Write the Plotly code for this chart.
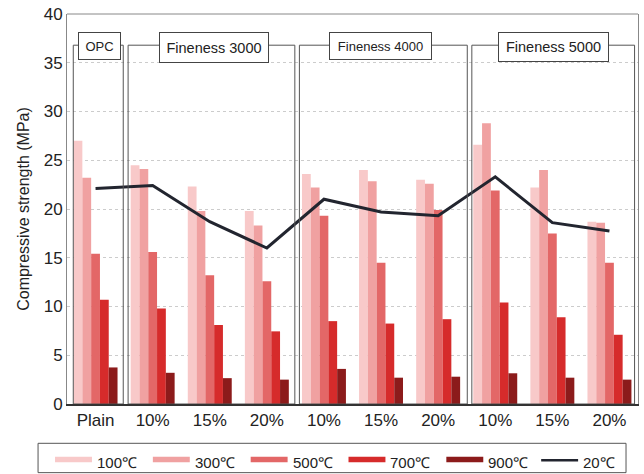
import plotly.graph_objects as go

# Mixes along the x axis (OPC plain, then three slag fineness groups)
categories = ["Plain", "10%", "15%", "20%", "10%", "15%", "20%", "10%", "15%", "20%"]

# Residual compressive strength (MPa) after exposure temperature
s100 = [27.0, 24.5, 22.3, 19.8, 23.6, 24.0, 23.0, 26.6, 22.2, 18.7]
s300 = [23.2, 24.1, 19.8, 18.3, 22.2, 22.85, 22.6, 28.8, 24.0, 18.6]
s500 = [15.4, 15.6, 13.2, 12.6, 19.3, 14.5, 19.9, 21.9, 17.5, 14.5]
s700 = [10.7, 9.8, 8.1, 7.45, 8.5, 8.25, 8.7, 10.4, 8.9, 7.1]
s900 = [3.75, 3.2, 2.65, 2.5, 3.6, 2.7, 2.8, 3.15, 2.7, 2.5]
s20 = [22.1, 22.4, 18.7, 16.0, 21.0, 19.7, 19.3, 23.3, 18.6, 17.75]

bar_names = ["100℃", "300℃", "500℃", "700℃", "900℃"]
bar_series = [s100, s300, s500, s700, s900]
bar_colors = ["#F8C9C9", "#F0A1A1", "#E36767", "#D62B2B", "#8C1B1B"]
line_name = "20℃"
line_color = "#22252F"

# Group frames: (label, first index, last index)
groups = [("OPC", 0, 0), ("Fineness 3000", 1, 3), ("Fineness 4000", 4, 6), ("Fineness 5000", 7, 9)]

FONT = "Liberation Sans, Arial, sans-serif"
xs = list(range(len(categories)))

fig = go.Figure()
for name, vals, col in zip(bar_names, bar_series, bar_colors):
    fig.add_trace(go.Bar(x=xs, y=vals, name=name, marker=dict(color=col, line=dict(width=0)),
                         showlegend=False))
fig.add_trace(go.Scatter(x=xs, y=s20, name=line_name, mode="lines",
                         line=dict(color=line_color, width=3), showlegend=False))

# plot area: px 67..639 horizontally, 12..404 vertically
W, H = 644, 474
L, R, T, B = 67, 5, 12, 70
PW, PH = W - L - R, H - T - B


def px(x):
    return (x - L) / PW


def py(y):
    return (H - B - y) / PH


shapes = []
# frames around each mix group
frame_edges = [(-0.39, 0.485), (0.57, 3.49), (3.57, 6.51), (6.59, 9.44)]
for (x0, x1) in frame_edges:
    shapes.append(dict(type="rect", xref="x", yref="y", x0=x0, x1=x1, y0=0, y1=36.8,
                       line=dict(color="#555555", width=1), fillcolor="rgba(0,0,0,0)", layer="above"))
# top border of plot area
shapes.append(dict(type="line", xref="paper", yref="paper", x0=0, x1=1, y0=1, y1=1,
                   line=dict(color="#888888", width=1)))

annotations = []
# group title boxes
title_boxes = [
    (100, 44, 41, 26, 13),
    (214, 45.5, 108, 29, 14.5),
    (381, 44, 101, 26, 13),
    (554, 45, 109, 28, 14.5),
]
for (label, _, _), (cx, cy, w, h, fs) in zip(groups, title_boxes):
    annotations.append(dict(text=label, xref="paper", yref="paper", x=px(cx), y=py(cy),
                            xanchor="center", yanchor="middle", showarrow=False,
                            width=w, height=h, bgcolor="white", bordercolor="#444444",
                            borderwidth=1, borderpad=0, font=dict(family=FONT, size=fs, color="#222")))

# legend box
shapes.append(dict(type="rect", xref="paper", yref="paper", x0=px(38), x1=px(627),
                   y0=py(473), y1=py(443.5), line=dict(color="#555555", width=1),
                   fillcolor="white"))
leg_x = [55, 153, 251, 349, 447]
for name, col, lx in zip(bar_names, bar_colors, leg_x):
    shapes.append(dict(type="rect", xref="paper", yref="paper", x0=px(lx), x1=px(lx + 37),
                       y0=py(462.5), y1=py(457), line=dict(width=0), fillcolor=col))
    annotations.append(dict(text=name, xref="paper", yref="paper", x=px(lx + 40), y=py(463),
                            xanchor="left", yanchor="middle", showarrow=False,
                            font=dict(family=FONT, size=15, color="#222")))
shapes.append(dict(type="line", xref="paper", yref="paper", x0=px(542), x1=px(579),
                   y0=py(460.5), y1=py(460.5), line=dict(color=line_color, width=2.5)))
annotations.append(dict(text=line_name, xref="paper", yref="paper", x=px(582), y=py(463),
                        xanchor="left", yanchor="middle", showarrow=False,
                        font=dict(family=FONT, size=15, color="#222")))

fig.update_layout(
    width=W, height=H,
    margin=dict(l=L, r=R, t=T, b=B),
    paper_bgcolor="white", plot_bgcolor="white",
    barmode="group", bargap=0.23, bargroupgap=0,
    font=dict(family=FONT, color="#222"),
    shapes=shapes, annotations=annotations,
    showlegend=False,
)
fig.update_xaxes(range=[-0.5, 9.5], tickvals=xs, ticktext=categories,
                 tickfont=dict(size=17, color="#222"), showgrid=False,
                 showline=True, linecolor="#333333", linewidth=1.5, ticks="", zeroline=False)
fig.update_yaxes(range=[0, 40], dtick=5, tickfont=dict(size=17, color="#222"),
                 title=dict(text="Compressive strength (MPa)", font=dict(size=16, color="#222"), standoff=10),
                 showgrid=True, gridcolor="#CCCCCC", griddash="dot", gridwidth=1,
                 showline=True, linecolor="#888888", linewidth=1, mirror=True, ticks="", zeroline=False)

fig.write_html("out.html")
